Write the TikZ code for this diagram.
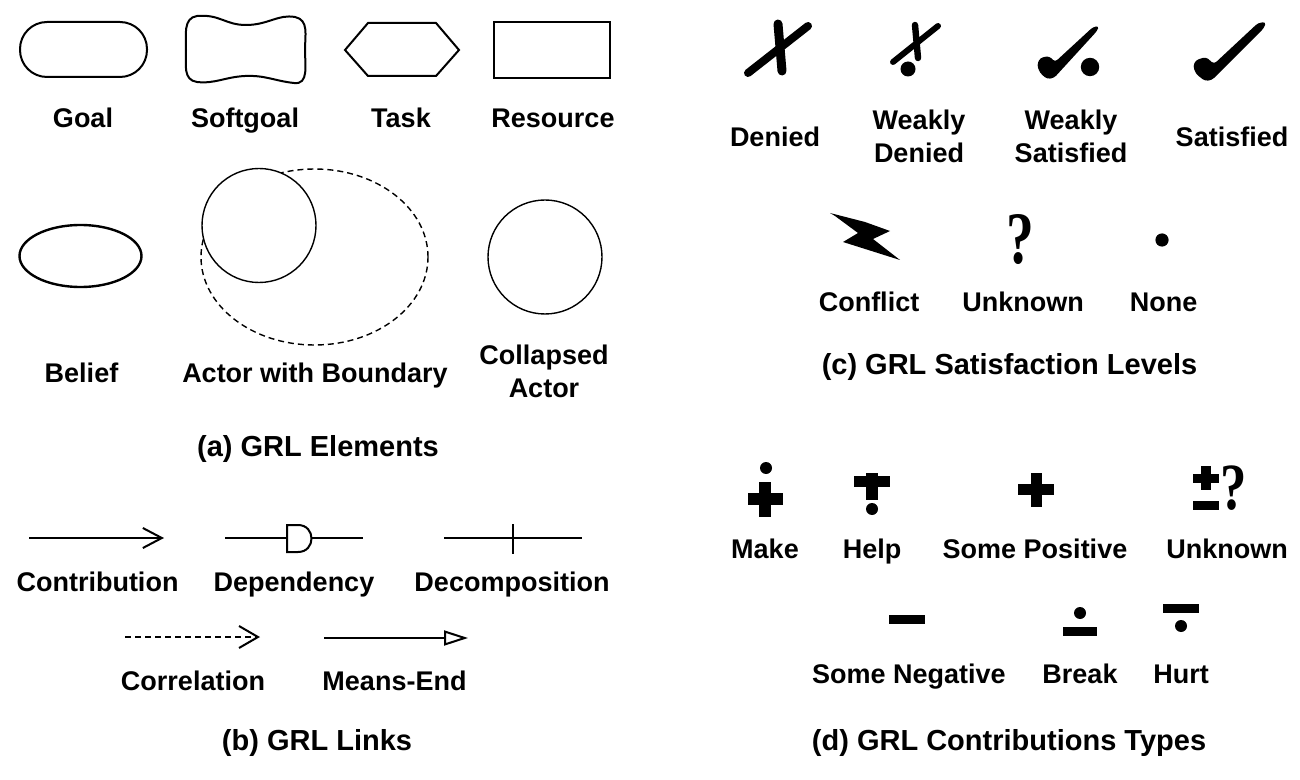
\documentclass[tikz,border=0pt]{standalone}
\usepackage{fontspec}
\setmainfont{Liberation Sans}
\newfontfamily\qmark{Liberation Serif}
\usetikzlibrary{positioning, arrows.meta}

\tikzset{
    lbl/.style={font=\fontsize{13.5}{16.5}\selectfont\bfseries, anchor=base, inner sep=0pt, align=center},
    ttl/.style={font=\fontsize{14.5}{17}\selectfont\bfseries, anchor=base, inner sep=0pt},
    elem/.style={line width=1pt},
    actor/.style={line width=0.7pt},
    link/.style={line width=1pt},
    pen/.style={line width=#1, line cap=round},
    bar/.style={fill=black},
}

\begin{document}
\begin{tikzpicture}[x=0.5pt, y=-0.5pt]
    \useasboundingbox (0,0) rectangle (1300,780);

    % (a) elements
    \draw[elem, rounded corners=13.5pt] (20,22) rectangle (147,77);
    \draw[elem] (197,16) .. controls (220,14) and (225,25) .. (246,25)
        .. controls (268,25) and (278,14) .. (295,17)
        .. controls (309,20) and (305,35) .. (305,50)
        .. controls (305,65) and (309,85) .. (294,83)
        .. controls (275,81) and (265,75) .. (245,76)
        .. controls (225,77) and (215,84) .. (197,82)
        .. controls (183,80) and (186,65) .. (186,50)
        .. controls (186,35) and (183,18) .. (197,16) -- cycle;
    \draw[elem] (345,50) -- (368,23) -- (436,23) -- (459,50) -- (436,76) -- (368,76) -- cycle;
    \draw[elem] (494,22) rectangle (610,78);
    \draw[elem, line width=1.2pt] (80.5,256) ellipse (30.5pt and 15.5pt);
    \draw[actor, dash pattern=on 3pt off 2pt] (314.5,257) ellipse (56.75pt and 44pt);
    \draw[actor, fill=white] (259,225.5) circle (28.5pt);
    \draw[actor] (545,257) circle (28.5pt);

    \node[lbl] (goal) at (83,128) {Goal};
    \node[lbl] (softgoal) at (245,128) {Softgoal};
    \node[lbl] (task) at (401,128) {Task};
    \node[lbl] (resource) at (553,128) {Resource};
    \node[lbl] (belief) at (81.5,383) {Belief};
    \node[lbl] (actor) at (315,383) {Actor with Boundary};
    \node[lbl] (collapsed) at (544,397) {Collapsed\\Actor};
    \node[ttl] (titleA) at (318,456) {(a) GRL Elements};

    % (b) links
    \coordinate (C1) at (29,538);
    \coordinate (C2) at (164,538);
    \draw[link, -{Straight Barb[length=9.5pt, width=10pt]}] (C1) -- (C2);
    \coordinate (D1) at (225,538);
    \coordinate (DL) at (287,538);
    \coordinate (DR) at (311.5,538);
    \coordinate (D2) at (363,538);
    \draw[link] (D1) -- (DL);
    \draw[link] (DR) -- (D2);
    \draw[link] (287,525) -- (298,525) .. controls (316,525) and (316,552) .. (298,552) -- (287,552) -- cycle;
    \coordinate (K1) at (444,538);
    \coordinate (K2) at (582,538);
    \draw[link] (K1) -- (K2);
    \draw[link] (512.5,524) -- (512.5,554);
    \coordinate (R1) at (125,637);
    \coordinate (R2) at (260,637);
    \draw[link, dash pattern=on 3pt off 2pt, -{Straight Barb[length=9.5pt, width=11pt]}] (R1) -- (R2);
    \coordinate (M1) at (324,638);
    \coordinate (M2) at (468,638);
    \draw[link, -{Triangle[open, length=12pt, width=7.5pt]}] (M1) -- (M2);

    \node[lbl] (contribution) at (97.5,591) {Contribution};
    \node[lbl] (dependency) at (294,591) {Dependency};
    \node[lbl] (decomposition) at (512,591) {Decomposition};
    \node[lbl] (correlation) at (193,690) {Correlation};
    \node[lbl] (meansend) at (394.5,690) {Means-End};
    \node[ttl] (titleB) at (317,750) {(b) GRL Links};

    % (c) satisfaction levels
    \draw[pen=4pt] (748,73) -- (808,26);
    \draw[pen=4.5pt] (778,24) -- (782,71);
    \draw[pen=3pt] (893,62) -- (938,26);
    \draw[pen=3.2pt] (915,25) -- (918,58);
    \fill (908,69) circle (3.75pt);
    \fill[rounded corners=1.5pt] (1040,58) -- (1049,56) -- (1055,62) -- (1093,27) -- (1099,26)
        -- (1097,31) -- (1054,78) -- (1047,79) -- (1040,73) -- (1037,65) -- cycle;
    \fill (1090,67) circle (4.6pt);
    \fill[rounded corners=1.5pt] (1196,60) -- (1206,57) -- (1214,64) -- (1258,23) -- (1266,22)
        -- (1264,28) -- (1212,80) -- (1205,81) -- (1196,74) -- (1193,66) -- cycle;
    \fill (830,213) -- (865,222) -- (890,231) -- (873,239) -- (900,260) -- (843,242) -- (858,233) -- (835,216) -- cycle;
    \node[inner sep=0pt, xscale=0.75, font=\qmark\bfseries\fontsize{37}{37}\selectfont] (qm) at (1020,240) {?};
    \fill (1162,240) circle (3.3pt);

    \node[lbl] (denied) at (775,147) {Denied};
    \node[lbl] (wdenied) at (919,163) {Weakly\\Denied};
    \node[lbl] (wsatisfied) at (1071,163) {Weakly\\Satisfied};
    \node[lbl] (satisfied) at (1232,147) {Satisfied};
    \node[lbl] (conflict) at (869,312) {Conflict};
    \node[lbl] (unknownS) at (1023,312) {Unknown};
    \node[lbl] (none) at (1163.5,312) {None};
    \node[ttl] (titleC) at (1009.5,375) {(c) GRL Satisfaction Levels};

    % (d) contribution types
    \fill (766,468) circle (3pt);
    \fill[bar] (759,482) rectangle (771,517);
    \fill[bar] (748,493) rectangle (783,505);
    \fill[bar] (854,476) rectangle (890,487);
    \fill[bar] (866,473) rectangle (878,500);
    \fill (872,509) circle (3pt);
    \fill[bar] (1018,484) rectangle (1054,495);
    \fill[bar] (1031,473) rectangle (1042,507);
    \fill[bar] (1193,474) rectangle (1219,483);
    \fill[bar] (1201,466) rectangle (1211,490);
    \fill[bar] (1193,501) rectangle (1219,510);
    \node[inner sep=0pt, xscale=0.8, font=\qmark\bfseries\fontsize{33}{33}\selectfont] (qm2) at (1234,488) {?};
    \fill[bar] (889,615) rectangle (925,624);
    \fill (1080,613) circle (3pt);
    \fill[bar] (1063,627) rectangle (1097,636);
    \fill[bar] (1163,604) rectangle (1199,613);
    \fill (1181,626) circle (3pt);

    \node[lbl] (make) at (765,558) {Make};
    \node[lbl] (help) at (872,558) {Help};
    \node[lbl] (somepos) at (1035,558) {Some Positive};
    \node[lbl] (unknownC) at (1227,558) {Unknown};
    \node[lbl] (someneg) at (909,683) {Some Negative};
    \node[lbl] (break) at (1080,683) {Break};
    \node[lbl] (hurt) at (1181,683) {Hurt};
    \node[ttl] (titleD) at (1009,750) {(d) GRL Contributions Types};
\end{tikzpicture}
\end{document}
